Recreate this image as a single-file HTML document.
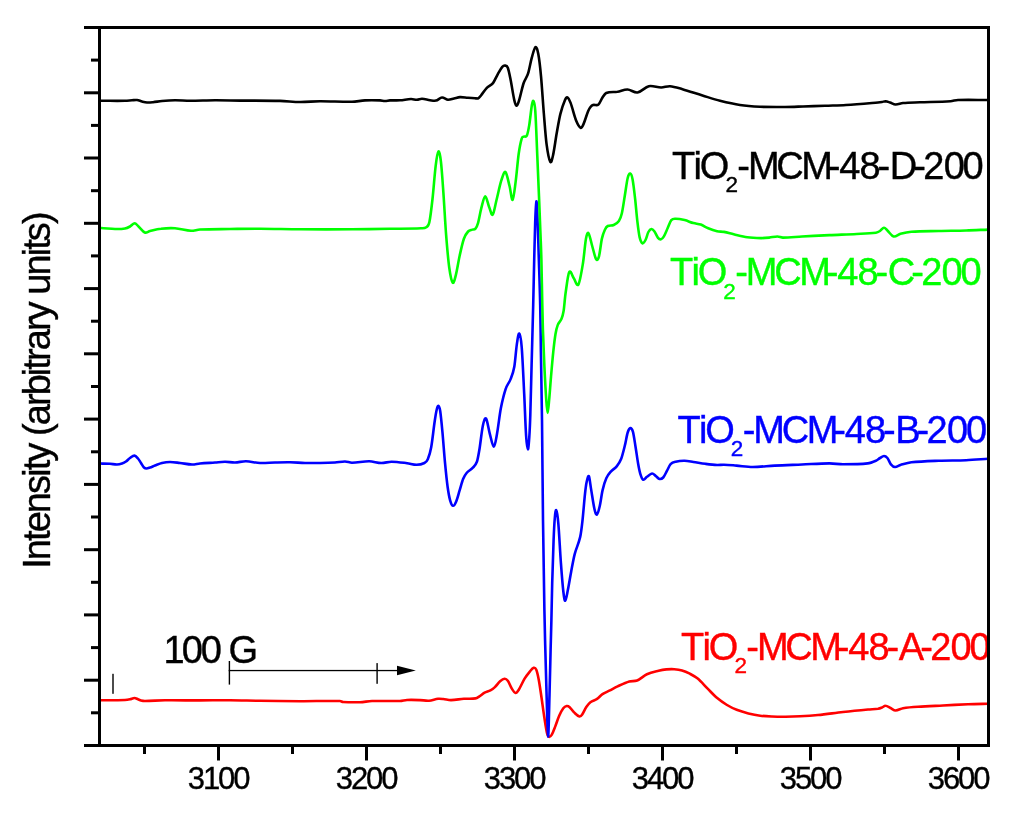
<!DOCTYPE html>
<html lang="en"><head><meta charset="utf-8"><title>EPR spectra</title>
<style>html,body{margin:0;padding:0;background:#fff}svg{display:block}text{font-family:"Liberation Sans",Arial,sans-serif}</style></head><body>
<svg width="1024" height="813" viewBox="0 0 1024 813">
<rect width="1024" height="813" fill="#fff"/>
<g fill="none" stroke-width="2.6" stroke-linejoin="round" stroke-linecap="butt">
<path stroke="#ff0000" d="M99.5 700.3 C108.00 700.20 116.50 700.28 125.0 700.0 C126.67 699.95 128.33 699.65 130.0 699.3 C131.50 698.98 133.00 698.00 134.5 698.0 C135.67 698.00 136.83 698.85 138.0 699.3 C139.00 699.68 140.00 700.26 141.0 700.5 C142.33 700.82 143.67 701.01 145.0 701.0 C151.67 700.94 158.33 700.37 165.0 700.3 C176.67 700.17 188.33 700.42 200.0 700.4 C210.00 700.38 220.00 700.13 230.0 700.2 C240.00 700.27 250.00 700.66 260.0 700.8 C273.33 700.99 286.67 701.17 300.0 701.2 C313.33 701.23 326.67 700.75 340.0 701.0 C341.00 701.02 342.00 701.94 343.0 702.0 C348.67 702.34 354.33 702.40 360.0 702.2 C364.00 702.06 368.00 701.12 372.0 701.0 C381.33 700.72 390.67 701.27 400.0 701.0 C402.33 700.93 404.67 700.11 407.0 700.0 C411.33 699.80 415.67 699.96 420.0 700.1 C423.00 700.20 426.00 700.92 429.0 700.7 C432.03 700.48 435.07 699.16 438.1 698.8 C439.80 698.60 441.50 698.83 443.2 699.0 C445.80 699.26 448.40 700.13 451.0 700.1 C455.30 700.06 459.60 699.10 463.9 698.8 C467.77 698.53 471.63 699.00 475.5 698.4 C476.80 698.20 478.10 697.21 479.4 696.4 C481.13 695.31 482.87 693.65 484.6 692.7 C486.53 691.65 488.47 691.45 490.4 690.4 C491.90 689.58 493.40 688.51 494.9 687.1 C496.63 685.47 498.37 682.80 500.1 681.3 C501.60 680.00 503.10 678.82 504.6 678.7 C505.67 678.62 506.73 679.24 507.8 680.7 C509.10 682.48 510.40 686.35 511.7 688.4 C513.00 690.45 514.30 692.76 515.6 693.0 C516.67 693.20 517.73 691.39 518.8 689.7 C520.73 686.63 522.67 681.88 524.6 678.7 C526.33 675.85 528.07 673.68 529.8 671.6 C531.10 670.04 532.40 668.18 533.7 667.8 C534.57 667.55 535.43 667.63 536.3 669.7 C537.13 671.69 537.97 675.54 538.8 680.0 C539.70 684.81 540.60 691.42 541.5 697.5 C542.40 703.58 543.30 710.73 544.2 716.5 C545.17 722.70 546.13 729.40 547.1 733.4 C547.77 736.16 548.43 736.62 549.1 736.8 C550.00 737.05 550.90 736.20 551.8 734.7 C552.93 732.80 554.07 729.49 555.2 726.6 C556.53 723.19 557.87 718.81 559.2 715.8 C560.57 712.71 561.93 710.09 563.3 708.3 C564.43 706.82 565.57 706.24 566.7 706.0 C567.60 705.81 568.50 706.22 569.4 707.0 C570.97 708.35 572.53 710.93 574.1 712.4 C575.90 714.09 577.70 716.06 579.5 716.5 C580.40 716.72 581.30 715.66 582.2 714.4 C583.57 712.49 584.93 709.03 586.3 707.0 C587.67 704.97 589.03 703.23 590.4 702.2 C592.63 700.53 594.87 700.40 597.1 698.9 C598.90 697.70 600.70 695.31 602.5 694.1 C604.77 692.58 607.03 691.86 609.3 690.7 C612.07 689.29 614.83 687.67 617.6 686.4 C621.50 684.61 625.40 682.68 629.3 681.5 C631.90 680.71 634.50 681.56 637.1 680.5 C640.37 679.16 643.63 675.77 646.9 674.3 C650.80 672.54 654.70 671.78 658.6 670.8 C661.20 670.15 663.80 669.67 666.4 669.4 C669.00 669.13 671.60 669.03 674.2 669.2 C676.80 669.37 679.40 669.65 682.0 670.4 C684.60 671.15 687.20 672.34 689.8 673.7 C692.43 675.08 695.07 676.40 697.7 678.6 C700.93 681.30 704.17 685.17 707.4 688.4 C710.67 691.67 713.93 695.33 717.2 698.1 C720.47 700.87 723.73 703.04 727.0 705.0 C730.23 706.94 733.47 708.53 736.7 709.8 C740.60 711.33 744.50 712.42 748.4 713.4 C752.33 714.39 756.27 715.18 760.2 715.7 C764.10 716.21 768.00 716.35 771.9 716.5 C776.43 716.68 780.97 716.73 785.5 716.7 C790.33 716.67 795.17 716.55 800.0 716.3 C806.00 715.99 812.00 715.60 818.0 715.0 C826.33 714.17 834.67 712.92 843.0 712.0 C851.33 711.08 859.67 710.27 868.0 709.5 C871.33 709.19 874.67 709.23 878.0 708.8 C879.33 708.56 880.67 708.03 882.0 707.5 C883.17 707.03 884.33 705.68 885.5 705.8 C887.17 705.85 888.83 707.21 890.5 708.0 C892.17 708.79 893.83 710.47 895.5 710.5 C898.00 710.55 900.50 708.67 903.0 708.2 C908.00 707.42 913.00 707.09 918.0 706.8 C926.33 706.18 934.67 705.92 943.0 705.5 C951.33 705.08 959.67 704.57 968.0 704.2 C974.67 703.99 981.33 703.92 988.0 703.8"/>
<path stroke="#0000ff" d="M99.5 463.5 C103.00 463.60 106.50 463.60 110.0 463.8 C112.33 463.93 114.67 464.56 117.0 464.5 C118.67 464.46 120.33 464.06 122.0 463.5 C123.33 463.06 124.67 462.42 126.0 461.5 C127.33 460.58 128.67 458.93 130.0 458.0 C131.50 456.96 133.00 455.51 134.5 455.6 C135.67 455.67 136.83 457.17 138.0 458.5 C139.00 459.64 140.00 461.50 141.0 463.0 C142.00 464.50 143.00 466.50 144.0 467.5 C144.83 468.33 145.67 468.50 146.5 468.5 C147.67 468.50 148.83 467.91 150.0 467.5 C151.67 466.91 153.33 466.12 155.0 465.5 C157.33 464.62 159.67 463.54 162.0 463.0 C164.67 462.38 167.33 462.00 170.0 462.0 C173.33 462.00 176.67 462.62 180.0 463.0 C184.00 463.45 188.00 464.40 192.0 464.5 C194.67 464.57 197.33 463.73 200.0 463.5 C205.00 463.07 210.00 462.84 215.0 462.5 C218.33 462.27 221.67 461.80 225.0 461.8 C228.33 461.80 231.67 462.58 235.0 462.5 C238.67 462.41 242.33 461.23 246.0 461.3 C250.67 461.39 255.33 462.81 260.0 463.0 C265.00 463.21 270.00 462.62 275.0 462.5 C280.00 462.38 285.00 462.22 290.0 462.3 C295.00 462.38 300.00 462.88 305.0 463.0 C310.00 463.12 315.00 463.08 320.0 463.0 C325.00 462.92 330.00 462.80 335.0 462.5 C338.33 462.30 341.67 461.46 345.0 461.5 C347.33 461.53 349.67 462.72 352.0 462.7 C357.73 462.65 363.47 461.24 369.2 461.3 C373.23 461.34 377.27 462.93 381.3 463.0 C384.73 463.06 388.17 461.67 391.6 461.7 C396.77 461.74 401.93 462.56 407.1 463.2 C410.27 463.59 413.43 464.84 416.6 464.8 C419.20 464.77 421.80 464.30 424.4 463.0 C425.53 462.43 426.67 461.83 427.8 459.2 C428.93 456.57 430.07 453.43 431.2 447.2 C432.37 440.79 433.53 429.20 434.7 421.3 C435.40 416.56 436.10 412.16 436.8 409.3 C437.37 406.99 437.93 405.52 438.5 405.8 C439.07 406.08 439.63 407.24 440.2 411.0 C440.93 415.87 441.67 423.80 442.4 431.7 C443.27 441.03 444.13 453.52 445.0 462.7 C445.87 471.88 446.73 480.48 447.6 486.8 C448.47 493.12 449.33 497.61 450.2 500.6 C451.17 503.94 452.13 505.67 453.1 505.8 C454.13 505.94 455.17 503.84 456.2 501.4 C457.37 498.64 458.53 493.97 459.7 490.2 C460.83 486.54 461.97 481.93 463.1 479.1 C464.27 476.19 465.43 474.38 466.6 473.0 C468.60 470.64 470.60 470.07 472.6 467.9 C474.03 466.34 475.47 465.73 476.9 461.8 C477.77 459.43 478.63 454.27 479.5 449.0 C480.60 442.31 481.70 431.06 482.8 425.9 C483.87 420.89 484.93 417.36 486.0 418.5 C487.23 419.82 488.47 428.88 489.7 433.3 C491.10 438.32 492.50 446.80 493.9 446.8 C494.97 446.80 496.03 439.21 497.1 433.3 C498.33 426.47 499.57 414.97 500.8 408.6 C502.43 400.17 504.07 393.82 505.7 388.9 C507.33 383.98 508.97 383.30 510.6 379.1 C511.83 375.93 513.07 373.66 514.3 366.8 C515.13 362.16 515.97 350.26 516.8 344.6 C517.60 339.16 518.40 333.09 519.2 333.5 C520.03 333.93 520.87 337.03 521.7 347.1 C522.53 357.17 523.37 377.12 524.2 393.9 C524.83 406.65 525.47 426.22 526.1 435.7 C526.70 444.68 527.30 449.06 527.9 449.3 C528.37 449.49 528.83 443.67 529.3 437.0 C529.63 432.24 529.97 425.43 530.3 415.0 C530.73 401.43 531.17 381.44 531.6 365.0 C532.13 344.77 532.67 326.54 533.2 305.0 C533.53 291.54 533.87 273.83 534.2 260.0 C534.53 246.17 534.87 230.88 535.2 222.0 C535.60 211.35 536.00 202.10 536.4 201.4 C536.77 200.76 537.13 209.46 537.5 218.0 C537.90 227.32 538.30 242.11 538.7 255.0 C539.20 271.11 539.70 282.95 540.2 305.0 C540.43 315.29 540.67 337.09 540.9 352.0 C541.27 375.43 541.63 390.67 542.0 420.0 C542.33 446.67 542.67 493.61 543.0 520.0 C543.47 556.94 543.93 583.48 544.4 610.0 C544.67 625.15 544.93 634.59 545.2 645.0 C545.63 661.92 546.07 678.33 546.5 692.0 C547.03 708.83 547.57 735.97 548.1 736.5 C548.57 736.97 549.03 711.15 549.5 695.0 C549.87 682.31 550.23 664.47 550.6 650.0 C550.87 639.47 551.13 631.17 551.4 620.0 C551.67 608.83 551.93 592.70 552.2 583.0 C552.67 566.03 553.13 551.67 553.6 540.0 C554.00 530.00 554.40 522.58 554.8 518.0 C555.27 512.65 555.73 509.52 556.2 510.2 C556.90 511.22 557.60 515.27 558.3 523.1 C559.17 532.80 560.03 551.09 560.9 562.8 C561.73 574.06 562.57 584.66 563.4 592.0 C564.00 597.29 564.60 600.93 565.2 600.7 C566.07 600.37 566.93 594.53 567.8 590.3 C568.93 584.77 570.07 577.35 571.2 571.4 C572.37 565.28 573.53 558.57 574.7 554.1 C576.53 547.07 578.37 544.69 580.2 536.9 C580.93 533.79 581.67 527.98 582.4 521.4 C583.27 513.62 584.13 501.80 585.0 493.8 C585.57 488.57 586.13 484.24 586.7 481.7 C587.43 478.41 588.17 475.12 588.9 476.3 C589.60 477.42 590.30 484.48 591.0 488.6 C592.17 495.48 593.33 504.18 594.5 509.3 C595.30 512.81 596.10 514.96 596.9 514.5 C597.83 513.96 598.77 510.30 599.7 506.3 C600.67 502.16 601.63 494.20 602.6 490.1 C603.83 484.87 605.07 481.08 606.3 478.3 C607.80 474.92 609.30 473.32 610.8 471.6 C612.77 469.35 614.73 468.79 616.7 466.4 C618.17 464.62 619.63 462.83 621.1 459.1 C622.33 455.96 623.57 450.77 624.8 445.8 C625.77 441.90 626.73 435.61 627.7 432.5 C628.57 429.71 629.43 428.23 630.3 428.1 C631.17 427.97 632.03 428.58 632.9 431.7 C633.80 434.94 634.70 441.70 635.6 447.2 C636.43 452.30 637.27 458.78 638.1 463.5 C638.83 467.65 639.57 471.47 640.3 473.8 C641.27 476.87 642.23 479.26 643.2 479.7 C644.43 480.26 645.67 477.66 646.9 476.8 C648.63 475.59 650.37 473.66 652.1 473.5 C653.33 473.39 654.57 475.08 655.8 476.0 C657.03 476.92 658.27 478.75 659.5 479.0 C660.73 479.25 661.97 478.85 663.2 477.5 C664.43 476.15 665.67 473.12 666.9 470.9 C668.13 468.68 669.37 465.49 670.6 464.2 C672.30 462.42 674.00 462.11 675.7 461.7 C678.67 460.98 681.63 460.75 684.6 460.8 C687.53 460.85 690.47 461.57 693.4 462.0 C697.37 462.57 701.33 463.30 705.3 463.8 C709.23 464.30 713.17 464.81 717.1 465.0 C719.40 465.11 721.70 464.63 724.0 464.7 C728.13 464.83 732.27 465.27 736.4 465.6 C741.87 466.04 747.33 467.00 752.8 467.0 C760.10 467.00 767.40 465.97 774.7 465.6 C783.80 465.14 792.90 464.87 802.0 464.5 C811.13 464.13 820.27 463.44 829.4 463.4 C833.93 463.38 838.47 464.30 843.0 464.3 C851.23 464.30 859.47 464.30 867.7 463.4 C870.43 463.10 873.17 461.90 875.9 460.7 C877.27 460.10 878.63 458.79 880.0 458.0 C881.33 457.23 882.67 456.00 884.0 456.0 C885.13 456.00 886.27 456.64 887.4 458.0 C888.57 459.40 889.73 462.92 890.9 464.3 C892.27 465.92 893.63 466.90 895.0 467.0 C896.83 467.13 898.67 465.53 900.5 465.0 C904.13 463.96 907.77 462.71 911.4 462.3 C920.53 461.27 929.67 461.05 938.8 460.7 C947.90 460.35 957.00 460.55 966.1 460.2 C973.40 459.92 980.70 459.27 988.0 458.8"/>
<path stroke="#00ff00" d="M99.5 228.5 C100.00 228.33 100.50 227.98 101.0 228.0 C105.67 228.15 110.33 228.90 115.0 229.0 C118.33 229.07 121.67 229.06 125.0 228.5 C126.67 228.22 128.33 227.40 130.0 226.5 C131.58 225.65 133.17 223.16 134.8 223.2 C136.17 223.33 137.58 225.69 139.0 227.0 C140.92 228.77 142.83 231.80 144.8 232.5 C146.50 233.14 148.25 231.40 150.0 231.0 C153.67 230.15 157.33 229.15 161.0 228.8 C165.67 228.25 170.33 227.99 175.0 228.3 C180.33 228.66 185.67 230.49 191.0 230.8 C194.00 230.89 197.00 229.63 200.0 229.5 C210.00 229.05 220.00 229.13 230.0 229.0 C240.00 228.87 250.00 228.66 260.0 228.7 C273.33 228.76 286.67 229.21 300.0 229.3 C317.33 229.41 334.67 229.40 352.0 229.3 C364.67 229.23 377.33 228.98 390.0 228.8 C400.33 228.65 410.67 228.73 421.0 228.3 C422.77 228.23 424.53 228.63 426.3 227.3 C427.33 226.53 428.37 226.72 429.4 222.0 C430.43 217.28 431.47 208.25 432.5 199.0 C433.57 189.45 434.63 174.19 435.7 165.6 C436.60 158.35 437.50 152.23 438.4 151.5 C439.23 150.83 440.07 154.52 440.9 161.4 C441.73 168.28 442.57 181.07 443.4 192.8 C444.30 205.47 445.20 223.13 446.1 234.6 C447.17 248.20 448.23 260.34 449.3 268.0 C450.47 276.38 451.63 281.59 452.8 282.7 C453.87 283.72 454.93 278.60 456.0 274.4 C457.23 269.54 458.47 261.06 459.7 255.5 C461.10 249.19 462.50 242.80 463.9 238.8 C465.30 234.80 466.70 233.03 468.1 231.5 C469.50 229.97 470.90 230.15 472.3 229.6 C473.37 229.18 474.43 229.85 475.5 228.6 C476.37 227.58 477.23 225.84 478.1 222.8 C479.13 219.17 480.17 212.44 481.2 208.6 C482.53 203.64 483.87 196.56 485.2 196.4 C486.57 196.23 487.93 204.27 489.3 207.6 C490.43 210.37 491.57 215.83 492.7 214.7 C493.93 213.47 495.17 205.39 496.4 200.5 C498.07 193.89 499.73 185.40 501.4 180.2 C502.77 175.93 504.13 171.08 505.5 172.1 C506.87 173.12 508.23 180.95 509.6 186.3 C510.60 190.22 511.60 200.58 512.6 199.9 C513.60 199.22 514.60 189.76 515.6 182.2 C516.63 174.39 517.67 161.19 518.7 153.8 C519.70 146.65 520.70 141.97 521.7 138.6 C522.40 136.24 523.10 137.01 523.8 136.6 C524.80 136.01 525.80 137.67 526.8 135.6 C527.60 133.94 528.40 130.18 529.2 125.4 C530.10 120.02 531.00 110.19 531.9 105.1 C532.43 102.09 532.97 100.14 533.5 101.1 C534.10 102.18 534.70 102.55 535.3 111.2 C535.97 120.81 536.63 140.55 537.3 155.9 C537.87 168.95 538.43 182.47 539.0 196.4 C539.53 209.51 540.07 222.87 540.6 237.0 C540.87 244.07 541.13 249.50 541.4 260.0 C541.67 270.50 541.93 287.63 542.2 300.0 C542.43 310.83 542.67 322.55 542.9 329.6 C543.40 344.71 543.90 356.07 544.4 366.5 C545.03 379.71 545.67 391.30 546.3 400.5 C546.73 406.80 547.17 413.00 547.6 413.0 C548.10 413.00 548.60 405.82 549.1 400.5 C549.73 393.76 550.37 384.16 551.0 376.8 C551.77 367.89 552.53 358.99 553.3 351.7 C554.03 344.73 554.77 338.43 555.5 334.0 C556.23 329.57 556.97 326.96 557.7 325.1 C558.93 321.96 560.17 321.95 561.4 319.0 C562.13 317.25 562.87 315.53 563.6 311.0 C564.23 307.09 564.87 298.09 565.5 293.7 C566.73 285.15 567.97 274.49 569.2 272.2 C570.73 269.36 572.27 276.25 573.8 278.3 C575.33 280.35 576.87 287.05 578.4 284.5 C579.93 281.95 581.47 272.30 583.0 263.0 C584.00 256.93 585.00 243.82 586.0 238.4 C586.83 233.88 587.67 232.18 588.5 233.2 C589.73 234.71 590.97 241.82 592.2 246.0 C593.53 250.52 594.87 257.28 596.2 259.3 C597.13 260.71 598.07 259.69 599.0 256.3 C599.97 252.79 600.93 242.96 601.9 238.6 C602.90 234.09 603.90 231.84 604.9 229.7 C605.87 227.64 606.83 226.52 607.8 226.0 C609.77 224.95 611.73 225.90 613.7 225.0 C615.43 224.20 617.17 223.36 618.9 220.9 C619.87 219.53 620.83 217.61 621.8 213.5 C622.80 209.25 623.80 201.82 624.8 195.8 C625.77 189.98 626.73 181.90 627.7 178.0 C628.57 174.50 629.43 173.33 630.3 173.6 C631.07 173.83 631.83 175.49 632.6 179.5 C633.43 183.86 634.27 191.36 635.1 198.7 C635.83 205.16 636.57 214.64 637.3 220.9 C638.07 227.44 638.83 233.80 639.6 237.1 C640.57 241.26 641.53 242.82 642.5 243.3 C643.50 243.79 644.50 241.92 645.5 240.0 C646.47 238.15 647.43 233.80 648.4 232.0 C649.40 230.14 650.40 229.14 651.4 229.0 C652.37 228.87 653.33 229.91 654.3 231.2 C655.53 232.84 656.77 236.31 658.0 237.8 C659.00 239.01 660.00 239.54 661.0 239.3 C661.97 239.07 662.93 238.01 663.9 236.4 C665.13 234.34 666.37 231.02 667.6 228.3 C668.83 225.58 670.07 221.56 671.3 220.1 C672.77 218.36 674.23 218.70 675.7 218.7 C678.67 218.70 681.63 219.36 684.6 220.1 C687.53 220.83 690.47 222.29 693.4 223.1 C695.87 223.79 698.33 223.73 700.8 224.6 C703.27 225.47 705.73 227.30 708.2 228.3 C711.17 229.50 714.13 230.52 717.1 231.2 C719.40 231.72 721.70 231.47 724.0 231.9 C727.23 232.50 730.47 233.55 733.7 234.3 C738.23 235.35 742.77 236.67 747.3 237.3 C751.87 237.94 756.43 238.04 761.0 238.1 C763.73 238.14 766.47 237.87 769.2 237.6 C771.93 237.33 774.67 236.50 777.4 236.5 C779.23 236.50 781.07 237.60 782.9 237.6 C789.27 237.60 795.63 236.84 802.0 236.5 C811.13 236.01 820.27 235.52 829.4 235.1 C838.50 234.68 847.60 234.47 856.7 234.0 C863.10 233.67 869.50 233.52 875.9 232.7 C877.27 232.52 878.63 231.84 880.0 231.0 C881.33 230.18 882.67 227.79 884.0 227.7 C885.13 227.62 886.27 229.46 887.4 230.5 C889.47 232.39 891.53 235.98 893.6 236.5 C895.90 237.08 898.20 234.41 900.5 233.8 C904.13 232.84 907.77 232.07 911.4 231.8 C920.53 231.13 929.67 231.22 938.8 231.0 C947.90 230.78 957.00 230.76 966.1 230.5 C973.40 230.29 980.70 229.90 988.0 229.6"/>
<path stroke="#000000" d="M99.5 100.8 C108.00 100.77 116.50 100.92 125.0 100.8 C127.33 100.77 129.67 100.46 132.0 100.3 C133.67 100.19 135.33 99.80 137.0 100.0 C138.67 100.20 140.33 101.08 142.0 101.5 C143.67 101.92 145.33 102.39 147.0 102.5 C149.00 102.63 151.00 102.40 153.0 102.2 C156.00 101.90 159.00 101.26 162.0 101.0 C166.33 100.63 170.67 100.33 175.0 100.3 C180.00 100.26 185.00 100.80 190.0 100.8 C198.33 100.80 206.67 100.33 215.0 100.3 C223.33 100.27 231.67 100.52 240.0 100.6 C253.33 100.72 266.67 100.59 280.0 100.9 C286.67 101.06 293.33 101.93 300.0 102.0 C306.67 102.07 313.33 101.33 320.0 101.3 C330.67 101.25 341.33 101.96 352.0 101.8 C356.33 101.66 360.67 100.61 365.0 100.4 C370.00 100.16 375.00 100.25 380.0 100.4 C381.67 100.45 383.33 101.00 385.0 101.0 C386.67 101.00 388.33 100.48 390.0 100.4 C393.33 100.24 396.67 100.52 400.0 100.3 C403.67 100.06 407.33 99.11 411.0 99.0 C413.00 98.94 415.00 99.84 417.0 99.8 C418.67 99.77 420.33 98.75 422.0 98.8 C424.67 98.88 427.33 99.86 430.0 100.2 C432.00 100.46 434.00 101.05 436.0 100.6 C438.00 100.15 440.00 97.64 442.0 97.5 C444.00 97.36 446.00 99.58 448.0 99.8 C450.00 99.92 452.00 98.94 454.0 98.5 C456.00 98.06 458.00 97.20 460.0 97.1 C462.67 96.97 465.33 97.60 468.0 97.8 C470.33 97.98 472.67 98.14 475.0 98.2 C476.10 98.30 477.20 98.80 478.3 98.3 C479.20 97.89 480.10 96.61 481.0 95.5 C482.87 93.21 484.73 90.03 486.6 88.1 C488.73 85.90 490.87 85.75 493.0 83.1 C494.57 81.15 496.13 77.03 497.7 74.3 C499.23 71.63 500.77 68.73 502.3 66.9 C503.20 65.83 504.10 65.45 505.0 65.6 C505.93 65.75 506.87 65.43 507.8 67.8 C508.73 70.17 509.67 75.16 510.6 79.8 C511.83 85.93 513.07 94.71 514.3 100.1 C515.03 103.31 515.77 105.46 516.5 105.6 C517.30 105.76 518.10 103.53 518.9 101.0 C520.43 96.16 521.97 88.10 523.5 83.5 C525.03 78.90 526.57 78.17 528.1 73.4 C529.33 69.57 530.57 62.07 531.8 57.7 C533.03 53.33 534.27 47.90 535.5 47.2 C536.43 46.67 537.37 49.10 538.3 54.0 C539.20 58.73 540.10 66.45 541.0 76.1 C541.93 86.11 542.87 101.62 543.8 113.0 C544.73 124.38 545.67 137.38 546.6 144.4 C547.83 153.68 549.07 159.76 550.3 161.9 C551.20 163.46 552.10 159.52 553.0 155.5 C554.23 149.99 555.47 140.23 556.7 133.3 C557.93 126.37 559.17 118.83 560.4 113.9 C561.93 107.77 563.47 103.74 565.0 100.1 C565.80 98.20 566.60 96.90 567.4 97.3 C568.47 97.83 569.53 100.07 570.6 102.9 C572.43 107.77 574.27 115.88 576.1 120.4 C577.63 124.18 579.17 127.03 580.7 127.8 C581.63 128.27 582.57 126.19 583.5 124.1 C585.03 120.66 586.57 114.95 588.1 111.2 C588.90 109.25 589.70 108.01 590.5 107.0 C591.33 105.95 592.17 105.26 593.0 105.0 C594.83 104.43 596.67 105.95 598.5 104.5 C599.83 103.45 601.17 99.48 602.5 97.5 C603.75 95.65 605.00 93.48 606.2 93.0 C610.00 91.56 613.75 92.37 617.5 91.8 C620.83 91.20 624.17 89.38 627.5 89.5 C630.83 89.62 634.17 93.01 637.5 92.5 C641.25 91.93 645.00 87.04 648.8 86.2 C652.92 85.37 657.08 87.50 661.2 87.5 C664.17 87.50 667.08 86.01 670.0 86.2 C674.17 86.59 678.33 88.06 682.5 89.2 C689.17 91.15 695.83 93.46 702.5 95.5 C708.33 97.29 714.17 99.27 720.0 100.8 C726.67 102.44 733.33 104.00 740.0 105.0 C746.67 106.00 753.33 106.45 760.0 106.8 C768.33 107.12 776.67 107.05 785.0 107.0 C791.00 106.97 797.00 106.69 803.0 106.5 C810.33 106.27 817.67 106.01 825.0 105.8 C832.00 105.51 839.00 105.43 846.0 105.0 C856.67 104.35 867.33 103.39 878.0 102.5 C879.33 102.39 880.67 102.22 882.0 102.0 C883.17 101.81 884.33 101.18 885.5 101.2 C887.00 101.34 888.50 102.01 890.0 102.5 C891.83 103.10 893.67 104.43 895.5 104.5 C898.00 104.60 900.50 103.22 903.0 103.0 C908.67 102.49 914.33 102.51 920.0 102.3 C930.17 101.93 940.33 101.87 950.5 101.2 C953.00 101.10 955.50 100.08 958.0 100.0 C968.00 99.67 978.00 100.00 988.0 100.0"/>
</g>
<g font-size="31" text-anchor="middle" letter-spacing="-2.1" fill="#000" stroke="#000" stroke-width="0.35">
<text x="218.1" y="789.4">3100</text>
<text x="366.1" y="789.4">3200</text>
<text x="514.1" y="789.4">3300</text>
<text x="662.1" y="789.4">3400</text>
<text x="810.1" y="789.4">3500</text>
<text x="958.1" y="789.4">3600</text>
</g>
<text transform="translate(49.6 568.8) rotate(-90)" font-size="38" letter-spacing="-1.93" fill="#000" stroke="#000" stroke-width="0.4">Intensity (arbitrary units)</text>
<text x="672.0" y="179" font-size="38" letter-spacing="-2.2" fill="#000000" stroke="#000000" stroke-width="0.4" dx="0 2 0">TiO<tspan font-size="22.5" dy="13.3" dx="-1.8">2</tspan><tspan dy="-13.3" dx="1.6 0.1 -1.1 -0.2 -3.0 1.1 1.3 -1 1.8 -1.8 -0.5 1.5 0">-MCM-48-D-200</tspan></text>
<text x="669.9" y="285.4" font-size="38" letter-spacing="-2.2" fill="#00ff00" stroke="#00ff00" stroke-width="0.4" dx="0 2 0">TiO<tspan font-size="22.5" dy="13.3" dx="-1.8">2</tspan><tspan dy="-13.3" dx="1.6 0.1 -1.1 -0.2 -3.0 1.1 1.3 -1 1.8 -1.8 -0.5 1.5 0">-MCM-48-C-200</tspan></text>
<text x="677.4" y="442.6" font-size="38" letter-spacing="-2.2" fill="#0000ff" stroke="#0000ff" stroke-width="0.4" dx="0 2 0">TiO<tspan font-size="22.5" dy="13.3" dx="-1.8">2</tspan><tspan dy="-13.3" dx="1.6 0.1 -1.1 -0.2 -3.0 1.1 1.3 -1 1.8 -1.8 -0.5 1.5 0">-MCM-48-B-200</tspan></text>
<text x="681.0" y="660.1" font-size="38" letter-spacing="-2.2" fill="#ff0000" stroke="#ff0000" stroke-width="0.4" dx="0 2 0">TiO<tspan font-size="22.5" dy="13.3" dx="-1.8">2</tspan><tspan dy="-13.3" dx="1.6 0.1 -1.1 -0.2 -3.0 1.1 1.3 -1 1.8 -1.8 -0.5 1.5 0">-MCM-48-A-200</tspan></text>
<g fill="#000">
<rect x="84" y="26" width="906" height="3"/>
<rect x="84" y="744" width="906" height="3"/>
<rect x="98" y="26" width="3" height="721"/>
<rect x="987" y="26" width="3" height="721"/>
<rect x="84" y="91.3" width="15" height="3"/>
<rect x="84" y="156.5" width="15" height="3"/>
<rect x="84" y="221.8" width="15" height="3"/>
<rect x="84" y="287.1" width="15" height="3"/>
<rect x="84" y="352.3" width="15" height="3"/>
<rect x="84" y="417.6" width="15" height="3"/>
<rect x="84" y="482.9" width="15" height="3"/>
<rect x="84" y="548.2" width="15" height="3"/>
<rect x="84" y="613.4" width="15" height="3"/>
<rect x="84" y="678.7" width="15" height="3"/>
<rect x="91" y="58.6" width="8" height="3"/>
<rect x="91" y="123.9" width="8" height="3"/>
<rect x="91" y="189.2" width="8" height="3"/>
<rect x="91" y="254.4" width="8" height="3"/>
<rect x="91" y="319.7" width="8" height="3"/>
<rect x="91" y="385.0" width="8" height="3"/>
<rect x="91" y="450.3" width="8" height="3"/>
<rect x="91" y="515.5" width="8" height="3"/>
<rect x="91" y="580.8" width="8" height="3"/>
<rect x="91" y="646.1" width="8" height="3"/>
<rect x="91" y="711.3" width="8" height="3"/>
<rect x="217.0" y="746" width="3" height="14.5"/>
<rect x="365.0" y="746" width="3" height="14.5"/>
<rect x="513.0" y="746" width="3" height="14.5"/>
<rect x="661.0" y="746" width="3" height="14.5"/>
<rect x="809.0" y="746" width="3" height="14.5"/>
<rect x="957.0" y="746" width="3" height="14.5"/>
<rect x="143.0" y="746" width="3" height="8"/>
<rect x="291.0" y="746" width="3" height="8"/>
<rect x="439.0" y="746" width="3" height="8"/>
<rect x="587.0" y="746" width="3" height="8"/>
<rect x="735.0" y="746" width="3" height="8"/>
<rect x="883.0" y="746" width="3" height="8"/>
</g>
<text x="163.5" y="663.1" font-size="38" letter-spacing="-2" fill="#000" stroke="#000" stroke-width="0.4" dx="0 -1 0 0 0">100 G</text>
<g fill="#000">
<rect x="112.3" y="673.8" width="1.4" height="20"/>
<rect x="228.7" y="661" width="1.4" height="23.6"/>
<rect x="376.4" y="663.1" width="1.4" height="20.7"/>
<rect x="228.7" y="669.9" width="170" height="1.3"/>
<path d="M397 665.8 L415.8 670.5 L397 675.2 Z"/>
</g>
</svg></body></html>
